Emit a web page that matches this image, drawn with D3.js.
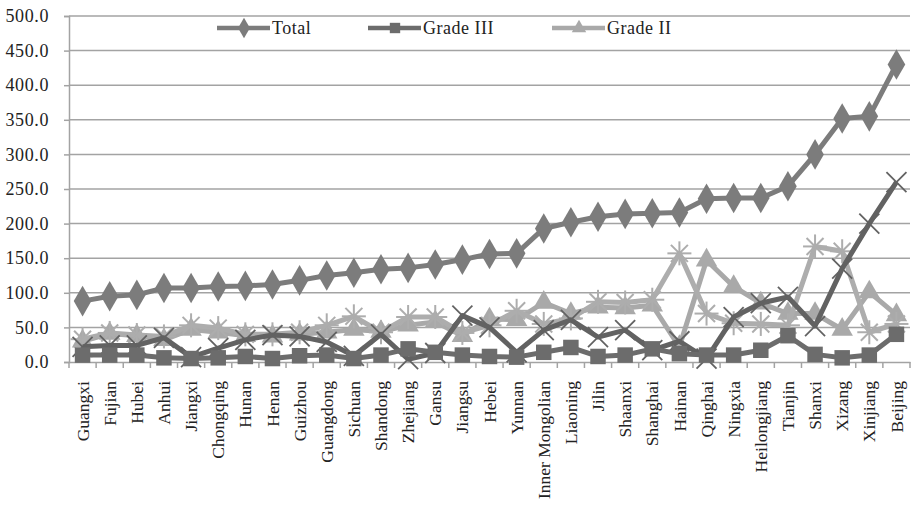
<!DOCTYPE html>
<html><head><meta charset="utf-8">
<script src="https://cdn.jsdelivr.net/npm/d3@7"></script>
<style>body{margin:0;background:#fff}svg{display:block}text{font-family:"Liberation Serif","DejaVu Serif","Times New Roman",serif;fill:#222}</style>
</head><body><svg id="c" width="914" height="505"></svg>
<script>
const provinces = ["Guangxi","Fujian","Hubei","Anhui","Jiangxi","Chongqing","Hunan","Henan","Guizhou","Guangdong","Sichuan","Shandong","Zhejiang","Gansu","Jiangsu","Hebei","Yunnan","Inner Mongolian","Liaoning","Jilin","Shaanxi","Shanghai","Hainan","Qinghai","Ningxia","Heilongjiang","Tianjin","Shanxi","Xizang","Xinjiang","Beijing"];
const total   = [88,95,97,107,107,109,110,112,118,125,129,134,136,141,148,156,157,193,202,210,214,215,216,236,237,237,254,300,352,355,430];
const gradeIII= [10,10,10,6,5,6,8,5,9,10,5,10,19,14,10,8,7,14,21,8,10,19,12,10,10,17,38,11,6,10,40];
const gradeII = [30,41,38,32,47,43,38,37,40,43,47,44,53,58,38,62,61,86,70,79,78,82,22,147,109,85,70,70,47,101,68];
const gradeI  = [22,24,24,35,7,20,32,39,37,29,9,40,4,13,67,50,14,46,61,36,46,17,30,5,65,85,94,52,135,200,260];
const other   = [33,42,39,37,53,49,40,40,43,53,66,43,65,65,42,53,74,55,63,87,86,90,157,70,56,55,53,167,160,43,55];
const yTicks  = [0,50,100,150,200,250,300,350,400,450,500];

const svg = d3.select("#c");
const L=69, R=910, T=16, B=362;
const FONT = '"Liberation Serif","DejaVu Serif",serif';
const x = d3.scaleBand().domain(provinces).range([L,R]);
const y = d3.scaleLinear().domain([0,500]).range([B,T]);
const cx = d => x(d)+x.bandwidth()/2;

// gridlines
svg.append("g").selectAll("line").data(yTicks.filter(t=>t>0)).join("line")
  .attr("x1",L).attr("x2",R).attr("y1",d=>y(d)).attr("y2",d=>y(d))
  .attr("stroke","#a3a3a3").attr("stroke-width",1.5);

// y axis
const ya = svg.append("g").attr("transform",`translate(${L},0)`)
  .call(d3.axisLeft(y).tickValues(yTicks).tickFormat(d3.format(".1f")).tickSize(5).tickPadding(15));
ya.attr("font-family",FONT);
ya.select(".domain").attr("stroke","#a3a3a3").attr("stroke-width",1.5);
ya.selectAll(".tick line").attr("stroke","#a3a3a3").attr("stroke-width",1.5);
ya.selectAll("text").style("font-size","18px").attr("fill","#333").attr("letter-spacing","0.6px");

// x axis
const xa = svg.append("g").attr("transform",`translate(0,${B})`)
  .call(d3.axisBottom(x).tickSize(0).tickPadding(0));
xa.attr("font-family",FONT);
xa.select(".domain").attr("stroke","#a3a3a3").attr("stroke-width",1.5);
xa.selectAll(".tick line").remove();
xa.selectAll(".tick text").attr("transform","rotate(-90)").attr("text-anchor","end")
  .attr("x",-19).attr("y",0).attr("dy","0.35em")
  .style("font-size","17.5px").attr("fill","#333");
// boundary ticks
svg.append("g").selectAll("line").data(d3.range(provinces.length+1)).join("line")
  .attr("x1",i=>L+i*x.step()).attr("x2",i=>L+i*x.step()).attr("y1",B).attr("y2",B+6)
  .attr("stroke","#a3a3a3").attr("stroke-width",1.5);

const series = [
  {name:"Grade II", vals:gradeII, color:"#a9a9a9", sym:d3.symbolTriangle, size:200},
  {name:"other", vals:other, color:"#adadad", sym:"star", size:0},
  {name:"Grade I", vals:gradeI, color:"#626262", sym:"x", size:0},
  {name:"Grade III", vals:gradeIII, color:"#6c6c6c", sym:d3.symbolSquare, size:240},
  {name:"Total", vals:total, color:"#7c7c7c", sym:d3.symbolDiamond, size:270},
];
const line = d3.line().x((d,i)=>cx(provinces[i])).y(d=>y(d));

function drawMarker(g, s, px, py){
  if(s.sym==="star"){
    const r=12;
    for(let k=0;k<4;k++){const a=k*Math.PI/4;
      g.append("line").attr("x1",px-r*Math.cos(a)).attr("x2",px+r*Math.cos(a))
       .attr("y1",py-r*Math.sin(a)).attr("y2",py+r*Math.sin(a)).attr("stroke",s.color).attr("stroke-width",2);}
  } else if(s.sym==="x"){
    const r=10;
    [[1,1],[1,-1]].forEach(([a,b])=>g.append("line").attr("x1",px-r*a).attr("x2",px+r*a)
      .attr("y1",py-r*b).attr("y2",py+r*b).attr("stroke",s.color).attr("stroke-width",1.8));
  } else {
    g.append("path").attr("d",d3.symbol().type(s.sym).size(s.size)()).attr("transform",`translate(${px},${py})`).attr("fill",s.color);
  }
}

series.forEach(s=>{
  const g = svg.append("g");
  g.append("path").datum(s.vals).attr("d",line).attr("fill","none").attr("stroke",s.color).attr("stroke-width",5).attr("stroke-linejoin","round");
  s.vals.forEach((v,i)=>drawMarker(g,s,cx(provinces[i]),y(v)));
});

// legend
const legend = [
  {s:series[4], x:217},
  {s:series[3], x:368},
  {s:series[0], x:552},
];
legend.forEach(l=>{
  const g=svg.append("g");
  g.append("line").attr("x1",l.x).attr("x2",l.x+53).attr("y1",28).attr("y2",28).attr("stroke",l.s.color).attr("stroke-width",4.5);
  g.append("path").attr("d",d3.symbol().type(l.s.sym).size(l.s.size*0.45)()).attr("transform",`translate(${l.x+27},28)`).attr("fill",l.s.color);
  g.append("text").attr("x",l.x+55).attr("y",28).attr("dy","0.35em").text(l.s.name)
   .style("font-size","18px").attr("font-family",FONT).attr("fill","#222").attr("letter-spacing","0.5px");
});
</script></body></html>
